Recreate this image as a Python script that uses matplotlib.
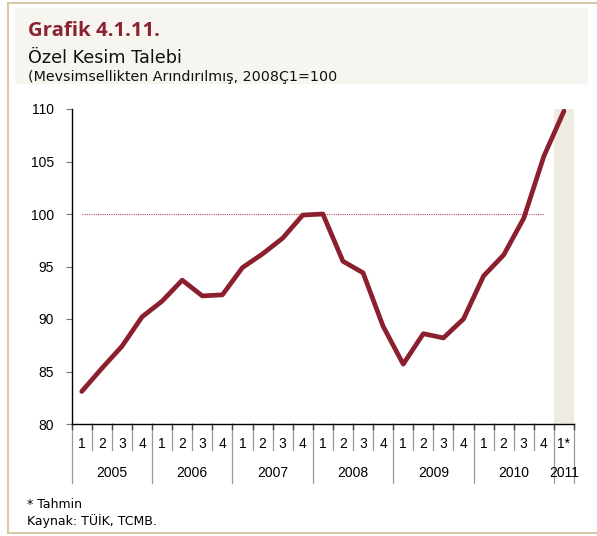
import numpy as np
import matplotlib.pyplot as plt
from matplotlib.patches import Rectangle
from matplotlib.lines import Line2D

plt.rcParams['font.family'] = ['Liberation Sans', 'DejaVu Sans']

# data: private sector demand, seasonally adjusted, 2008Q1=100
years = ["2005", "2006", "2007", "2008", "2009", "2010", "2011"]
quarters = ["1", "2", "3", "4"] * 6 + ["1*"]
demand = [83.1, 85.3, 87.4, 90.2,
          91.7, 93.7, 92.2, 92.3,
          94.9, 96.2, 97.7, 99.9,
          100.0, 95.5, 94.4, 89.3,
          85.7, 88.6, 88.2, 90.0,
          94.1, 96.1, 99.6, 105.5,
          109.8]
ref_level = 100
n_forecast = 1

W, H = 597, 536
fig = plt.figure(figsize=(W / 100, H / 100), dpi=100)
fig.patch.set_facecolor('white')

def px(x, y):
    return x / W, 1 - y / H

# frame + header background
tan = '#d9c9a9'
fig.add_artist(Line2D([px(8, 0)[0], 1], [px(0, 2.7)[1]] * 2, color=tan, lw=1.5))
fig.add_artist(Line2D([px(8, 0)[0]] * 2, [px(0, 2.7)[1], px(0, 533)[1]], color=tan, lw=1.5))
fig.add_artist(Line2D([px(8, 0)[0], 1], [px(0, 533)[1]] * 2, color=tan, lw=1.5))
x0, y0 = px(15, 84)
fig.add_artist(Rectangle((x0, y0), (588 - 15) / W, (84 - 8) / H,
                         transform=fig.transFigure, facecolor='#f7f5f0', edgecolor='none'))

hdr_font = ['DejaVu Sans']
fig.text(*px(28, 31), "Grafik 4.1.11.", color='#8b2232', fontsize=14.7, fontweight='bold',
         va='center', ha='left', family=['Open Sans', 'DejaVu Sans'])
fig.text(*px(28, 58), "Özel Kesim Talebi", color='#111111', fontsize=12.7,
         va='center', ha='left', family=hdr_font)
fig.text(*px(28, 77), "(Mevsimsellikten Arındırılmış, 2008Ç1=100", color='#111111', fontsize=10.3,
         va='center', ha='left', family=hdr_font)
fig.text(*px(27, 505), "* Tahmin", fontsize=9, va='center', ha='left', family=hdr_font)
fig.text(*px(27, 521), "Kaynak: TÜİK, TCMB.", fontsize=9, va='center', ha='left', family=hdr_font)

# axes
ax_l, ax_r, ax_t, ax_b = 71.7, 574, 109, 424
ax = fig.add_axes([ax_l / W, 1 - ax_b / H, (ax_r - ax_l) / W, (ax_b - ax_t) / H])
x = np.arange(len(demand))
ax.set_xlim(-0.5, len(demand) - 0.5)
ax.set_ylim(80, 110)

# forecast shading
ax.axvspan(len(demand) - n_forecast - 0.5, len(demand) - 0.5, color='#eeebe1', lw=0, zorder=0)
# reference line at 100
ax.plot([0, len(demand) - 2], [ref_level, ref_level], color='#c4486a', lw=0.8,
        linestyle=(0, (1, 1)), zorder=1)
ax.plot(x, demand, color='#8b1f2d', lw=3.4, solid_capstyle='round', solid_joinstyle='round', zorder=3)

ax.set_yticks(np.arange(80, 111, 5))
ax.tick_params(axis='y', direction='out', length=4, color='#777777', labelsize=10, pad=9)
ax.set_xticks([])
for s in ['top', 'right']:
    ax.spines[s].set_visible(False)
ax.spines['left'].set_linewidth(1.0)
ax.spines['bottom'].set_linewidth(1.0)

# two-level category axis
axh = ax_b - ax_t
trans = ax.get_xaxis_transform()
q_bot = -(450 - ax_b) / axh
y_bot = -(483 - ax_b) / axh
for k in range(len(demand) + 1):
    b = k - 0.5
    is_year = (k % 4 == 0) or k == len(demand)
    ax.plot([b, b], [0, y_bot if is_year else q_bot], color='#999999', lw=0.9,
            transform=trans, clip_on=False, zorder=2)
    ax.plot([b, b], [0, -5 / axh], color='#444444', lw=1.0, transform=trans, clip_on=False)
for k, q in enumerate(quarters):
    ax.text(k, -(444 - ax_b) / axh, q, transform=trans, ha='center', va='center', fontsize=10)
for i, yr in enumerate(years):
    pos = np.arange(len(demand))[i * 4:(i + 1) * 4]
    ax.text(pos.mean(), -(473 - ax_b) / axh, yr, transform=trans, ha='center', va='center', fontsize=10)

fig.savefig("out.png", dpi=100)
